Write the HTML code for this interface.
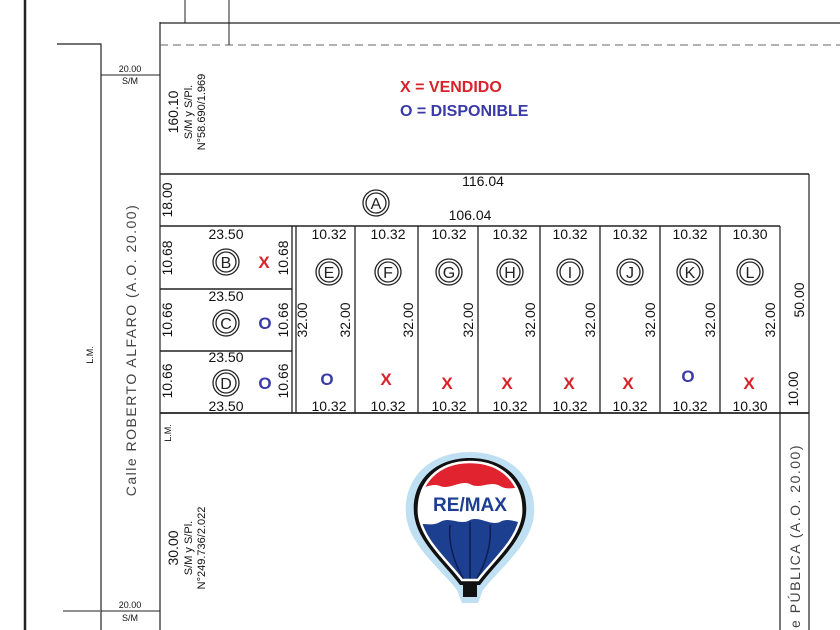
<!DOCTYPE html>
<html><head><meta charset="utf-8"><style>
html,body{margin:0;padding:0;background:#fff;}
svg{display:block;font-family:"Liberation Sans",sans-serif;}
</style></head><body>
<svg width="840" height="630" viewBox="0 0 840 630" xmlns="http://www.w3.org/2000/svg">
<rect width="840" height="630" fill="#fff"/>
<g stroke="#222" fill="none">
<line x1="25" y1="0" x2="25" y2="630" stroke-width="2.5"/>
<polyline points="57,44 101,44 101,630" stroke-width="1.2"/>
<line x1="160" y1="22" x2="160" y2="630" stroke-width="1.2"/>
<line x1="160" y1="23" x2="840" y2="23" stroke-width="1.2"/>
<line x1="160" y1="45" x2="840" y2="45" stroke-width="1" stroke-dasharray="8,5" stroke="#666"/>
<line x1="185" y1="0" x2="185" y2="23"/>
<line x1="229" y1="0" x2="229" y2="45"/>
<line x1="101" y1="75" x2="160" y2="75"/>
<line x1="63" y1="611" x2="100" y2="611"/>
<line x1="101" y1="611" x2="160" y2="611"/>
<line x1="160" y1="174" x2="809" y2="174" stroke-width="1.5"/>
<line x1="809" y1="174" x2="809" y2="630" stroke-width="1.2"/>
<line x1="780" y1="226" x2="780" y2="630" stroke-width="1.2"/>
<line x1="160" y1="413" x2="809" y2="413" stroke-width="1.8"/>
<line x1="160" y1="226" x2="780" y2="226" stroke-width="1.5"/>
<line x1="160" y1="289" x2="292" y2="289" stroke-width="1.5"/>
<line x1="160" y1="351" x2="292" y2="351" stroke-width="1.5"/>
<g stroke-width="1.3">
<line x1="292" y1="226" x2="292" y2="413"/>
<line x1="296" y1="226" x2="296" y2="413"/>
<line x1="355" y1="226" x2="355" y2="413"/>
<line x1="418" y1="226" x2="418" y2="413"/>
<line x1="478" y1="226" x2="478" y2="413"/>
<line x1="540" y1="226" x2="540" y2="413"/>
<line x1="600" y1="226" x2="600" y2="413"/>
<line x1="660" y1="226" x2="660" y2="413"/>
<line x1="720" y1="226" x2="720" y2="413"/>
</g>
</g>
<g font-size="16" text-anchor="middle" fill="#222">
<g fill="none" stroke="#222" stroke-width="1.3">
<circle cx="376" cy="203" r="13"/><circle cx="376" cy="203" r="10"/>
<circle cx="226" cy="262" r="13"/><circle cx="226" cy="262" r="10"/>
<circle cx="226" cy="323" r="13"/><circle cx="226" cy="323" r="10"/>
<circle cx="226" cy="383" r="13"/><circle cx="226" cy="383" r="10"/>
<circle cx="329" cy="272" r="13"/><circle cx="329" cy="272" r="10"/>
<circle cx="388" cy="272" r="13"/><circle cx="388" cy="272" r="10"/>
<circle cx="449" cy="272" r="13"/><circle cx="449" cy="272" r="10"/>
<circle cx="510" cy="272" r="13"/><circle cx="510" cy="272" r="10"/>
<circle cx="570" cy="272" r="13"/><circle cx="570" cy="272" r="10"/>
<circle cx="630" cy="272" r="13"/><circle cx="630" cy="272" r="10"/>
<circle cx="690" cy="272" r="13"/><circle cx="690" cy="272" r="10"/>
<circle cx="750" cy="272" r="13"/><circle cx="750" cy="272" r="10"/>
</g>
<text x="376" y="209">A</text>
<text x="226" y="268">B</text><text x="226" y="329">C</text><text x="226" y="389">D</text>
<text x="329" y="278">E</text><text x="388" y="278">F</text><text x="449" y="278">G</text><text x="510" y="278">H</text>
<text x="570" y="278">I</text><text x="630" y="278">J</text><text x="690" y="278">K</text><text x="750" y="278">L</text>
</g>
<g font-size="17" font-weight="bold" text-anchor="middle">
<text x="264" y="268" fill="#d8232a">X</text>
<text x="265" y="329" fill="#3a3aa8">O</text>
<text x="265" y="389" fill="#3a3aa8">O</text>
<text x="327" y="385" fill="#3a3aa8">O</text>
<text x="386" y="385" fill="#d8232a">X</text>
<text x="447" y="389" fill="#d8232a">X</text>
<text x="507" y="389" fill="#d8232a">X</text>
<text x="569" y="389" fill="#d8232a">X</text>
<text x="628" y="389" fill="#d8232a">X</text>
<text x="688" y="382" fill="#3a3aa8">O</text>
<text x="749" y="389" fill="#d8232a">X</text>
</g>
<text x="400" y="92" font-size="16" font-weight="bold" fill="#d8232a">X = VENDIDO</text>
<text x="400" y="116" font-size="16" font-weight="bold" fill="#3a3aa8">O = DISPONIBLE</text>
<g font-size="14" fill="#111" text-anchor="middle">
<text x="483" y="186">116.04</text>
<text x="470" y="220">106.04</text>
<text x="226" y="239">23.50</text>
<text x="226" y="301">23.50</text>
<text x="226" y="362">23.50</text>
<text x="226" y="411">23.50</text>
<text x="329" y="239">10.32</text><text x="388" y="239">10.32</text><text x="449" y="239">10.32</text><text x="510" y="239">10.32</text>
<text x="570" y="239">10.32</text><text x="630" y="239">10.32</text><text x="690" y="239">10.32</text><text x="750" y="239">10.30</text>
<text x="329" y="411">10.32</text><text x="388" y="411">10.32</text><text x="449" y="411">10.32</text><text x="510" y="411">10.32</text>
<text x="570" y="411">10.32</text><text x="630" y="411">10.32</text><text x="690" y="411">10.32</text><text x="750" y="411">10.30</text>
<text transform="translate(172,200) rotate(-90)">18.00</text>
<text transform="translate(172,258) rotate(-90)">10.68</text>
<text transform="translate(172,320) rotate(-90)">10.66</text>
<text transform="translate(172,381) rotate(-90)">10.66</text>
<text transform="translate(288,258) rotate(-90)">10.68</text>
<text transform="translate(288,320) rotate(-90)">10.66</text>
<text transform="translate(288,381) rotate(-90)">10.66</text>
<text transform="translate(307,320) rotate(-90)">32.00</text>
<text transform="translate(350,320) rotate(-90)">32.00</text>
<text transform="translate(413,320) rotate(-90)">32.00</text>
<text transform="translate(473,320) rotate(-90)">32.00</text>
<text transform="translate(535,320) rotate(-90)">32.00</text>
<text transform="translate(595,320) rotate(-90)">32.00</text>
<text transform="translate(655,320) rotate(-90)">32.00</text>
<text transform="translate(715,320) rotate(-90)">32.00</text>
<text transform="translate(775,320) rotate(-90)">32.00</text>
<text transform="translate(804,300) rotate(-90)">50.00</text>
<text transform="translate(798,389) rotate(-90)">10.00</text>
</g>
<g font-size="9" fill="#111" text-anchor="middle">
<text x="130" y="72">20.00</text><text x="130" y="84">S/M</text>
<text x="130" y="608">20.00</text><text x="130" y="621">S/M</text>
<text transform="translate(93,355) rotate(-90)">L.M.</text>
<text transform="translate(171,433) rotate(-90)">L.M.</text>
</g>
<g font-size="12" fill="#111" text-anchor="middle">
<text transform="translate(178,112) rotate(-90)" font-size="14">160.10</text>
<text transform="translate(192,112) rotate(-90)" font-size="11">S/M y S/Pl.</text>
<text transform="translate(205,112) rotate(-90)" font-size="11">N°58.690/1.969</text>
<text transform="translate(178,548) rotate(-90)" font-size="14">30.00</text>
<text transform="translate(192,548) rotate(-90)" font-size="11">S/M y S/Pl.</text>
<text transform="translate(205,548) rotate(-90)" font-size="11">N°249.736/2.022</text>
</g>
<text transform="translate(136,350) rotate(-90)" font-size="14" fill="#444" text-anchor="middle" letter-spacing="1.5">Calle ROBERTO ALFARO (A.O. 20.00)</text>
<text transform="translate(800,444) rotate(-90)" font-size="14" fill="#444" text-anchor="end" letter-spacing="1.5">Calle PÚBLICA (A.O. 20.00)</text>
<g>
<path d="M470,452 C430,452 403,478 406,515 C409,545 440,568 457,590 L462,603 L478,603 L483,590 C500,568 531,545 534,515 C537,478 510,452 470,452 Z" fill="#bfe0f2"/>
<path d="M470,458 C435,458 411,481 414,514 C417,542 444,563 460,585 L480,585 C496,563 523,542 526,514 C529,481 505,458 470,458 Z" fill="#111"/>
<clipPath id="bc"><path d="M470,462 C438,462 417,483 419,514 C422,540 447,560 462,580 L478,580 C493,560 518,540 521,514 C523,483 502,462 470,462 Z"/></clipPath>
<g clip-path="url(#bc)">
<rect x="410" y="455" width="120" height="130" fill="#fff"/>
<path d="M410,455 H530 V490 C520,484 510,492 500,486 C490,480 480,490 470,484 C460,480 450,490 440,486 C430,482 420,492 410,488 Z" fill="#e0232f"/>
<path d="M410,527 C420,520 430,528 440,522 C450,516 460,526 470,520 C480,516 490,526 500,522 C510,516 520,526 530,522 V590 H410 Z" fill="#1d3f8f"/>
<g stroke="#0d1f50" stroke-width="1.5" fill="none">
<path d="M450,525 C448,545 455,565 464,580"/><path d="M470,522 V580"/><path d="M490,525 C492,545 485,565 476,580"/>
</g>
</g>
<path d="M470,462 C438,462 417,483 419,514 C422,540 447,560 462,580 L478,580 C493,560 518,540 521,514 C523,483 502,462 470,462 Z" fill="none" stroke="#fff" stroke-width="2.5"/>
<rect x="463" y="584" width="14" height="13" fill="#111"/>
<text x="470" y="511" font-size="19" font-weight="bold" fill="#1d3f8f" text-anchor="middle">RE/MAX</text>
</g>
</svg>
</body></html>
